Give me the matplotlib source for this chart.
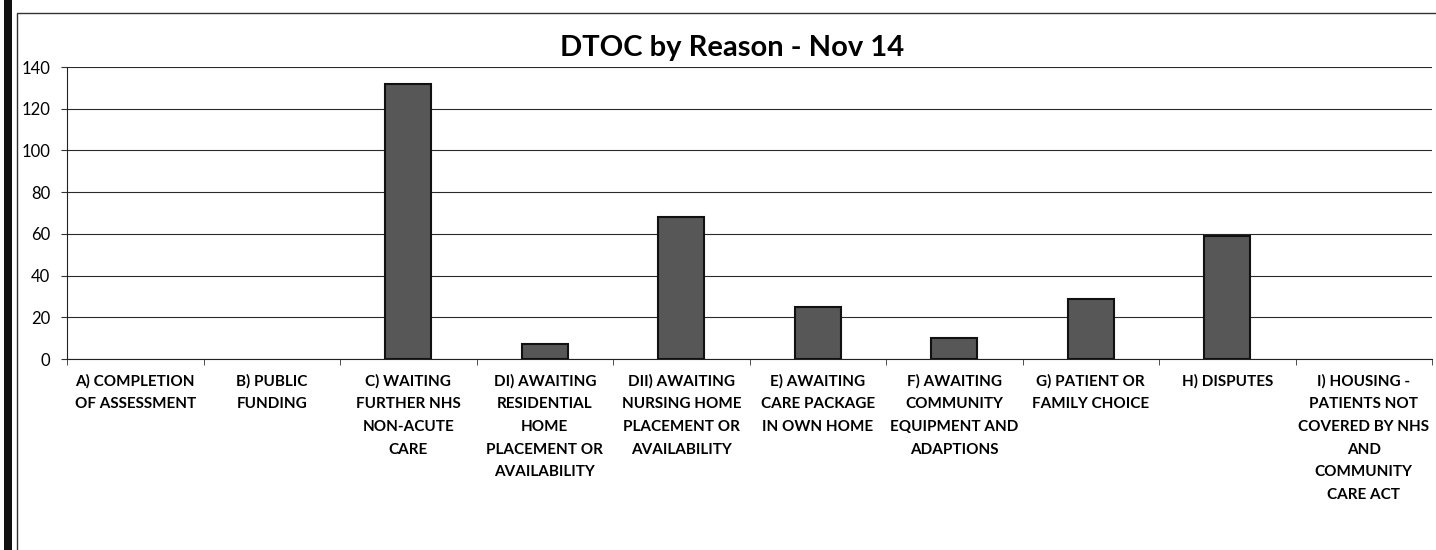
import matplotlib.pyplot as plt
from matplotlib.patches import Rectangle
import numpy as np

categories = [
    "A) COMPLETION\nOF ASSESSMENT",
    "B) PUBLIC\nFUNDING",
    "C) WAITING\nFURTHER NHS\nNON-ACUTE\nCARE",
    "DI) AWAITING\nRESIDENTIAL\nHOME\nPLACEMENT OR\nAVAILABILITY",
    "DII) AWAITING\nNURSING HOME\nPLACEMENT OR\nAVAILABILITY",
    "E) AWAITING\nCARE PACKAGE\nIN OWN HOME",
    "F) AWAITING\nCOMMUNITY\nEQUIPMENT AND\nADAPTIONS",
    "G) PATIENT OR\nFAMILY CHOICE",
    "H) DISPUTES",
    "I) HOUSING -\nPATIENTS NOT\nCOVERED BY NHS\nAND\nCOMMUNITY\nCARE ACT",
]
values = [0, 0, 132, 7, 68, 25, 10, 29, 59, 0]
yticks = [0, 20, 40, 60, 80, 100, 120, 140]

plt.rcParams['font.family'] = ['Lato', 'DejaVu Sans']

W, H = 1436, 550
fig = plt.figure(figsize=(W / 100, H / 100), dpi=100)
ax = fig.add_axes([67 / W, 1 - 359 / H, (1432 - 67) / W, (359 - 67) / H])

x = np.arange(len(values))
# zero-height bars get no outline, like the original
lws = [1.5 if v > 0 else 0 for v in values]
ax.bar(x, values, width=0.34, color='#575757', edgecolor='#111111', linewidth=lws, zorder=3)

ax.set_xlim(-0.5, len(values) - 0.5)
ax.set_ylim(0, 140)
ax.set_yticks(yticks)
ax.set_yticklabels([str(v) for v in yticks], fontsize=12)
ax.yaxis.grid(True, color='#2a2a2a', linewidth=0.8, zorder=0)

ax.set_xticks(x)
ax.set_xticklabels(categories, fontsize=11, fontweight='bold', linespacing=1.78)
ax.tick_params(axis='x', length=0, pad=11)
ax.set_xticks(np.arange(-0.5, len(values)), minor=True)
ax.tick_params(axis='x', which='minor', length=4, color='#333333')
ax.tick_params(axis='y', length=4, color='#333333', pad=8)

for s in ['top', 'right']:
    ax.spines[s].set_visible(False)
ax.spines['left'].set_color('#222222')
ax.spines['bottom'].set_color('#222222')

fig.text(732 / W, 1 - 56 / H, 'DTOC by Reason - Nov 14', ha='center', va='baseline',
         fontsize=21, fontweight='bold')

# outer chart frame and scan border
fig.add_artist(Rectangle((17 / W, -0.1), 1.1, 1 - 13 / H + 0.1, transform=fig.transFigure,
                         fill=False, edgecolor='#333333', linewidth=1))
fig.add_artist(Rectangle((4 / W, 0), 8 / W, 1, transform=fig.transFigure,
                         facecolor='#111111', edgecolor='none'))

fig.savefig('out.png', dpi=100)
